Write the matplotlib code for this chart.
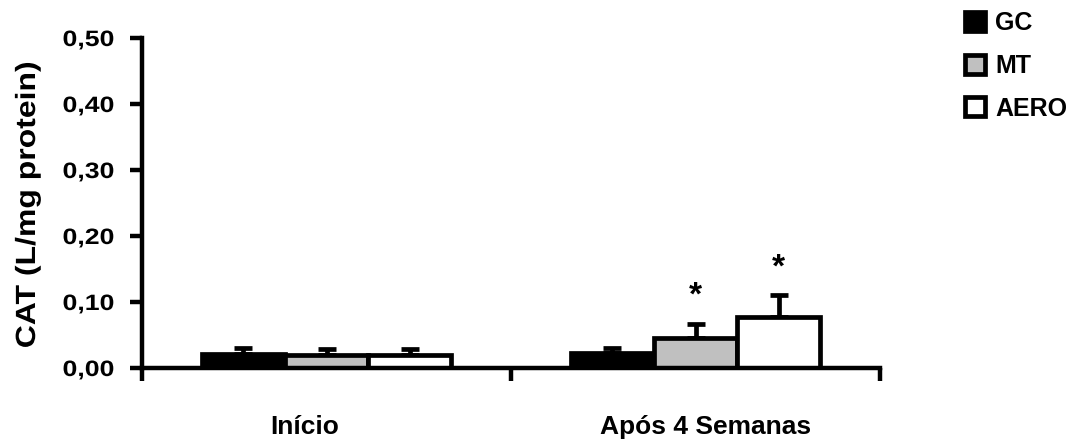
import matplotlib
matplotlib.use("Agg")
import matplotlib.pyplot as plt
import numpy as np
from matplotlib.patches import Patch
from matplotlib.ticker import FuncFormatter
from matplotlib.patheffects import AbstractPathEffect
from matplotlib.transforms import Affine2D

plt.rcParams['font.family'] = ['Liberation Sans', 'DejaVu Sans']
plt.rcParams['font.weight'] = 'bold'

categories = ["Início", "Após 4 Semanas"]
groups = ["GC", "MT", "AERO"]
values = {
    "GC":   [0.021, 0.022],
    "MT":   [0.020, 0.046],
    "AERO": [0.020, 0.078],
}
errors = {
    "GC":   [0.009, 0.008],
    "MT":   [0.009, 0.021],
    "AERO": [0.009, 0.032],
}
significant = {
    "GC":   [False, False],
    "MT":   [False, True],
    "AERO": [False, True],
}
colors = {"GC": "#000000", "MT": "#c0c0c0", "AERO": "#ffffff"}
yticks = [0.0, 0.1, 0.2, 0.3, 0.4, 0.5]
ylabel = "CAT (L/mg protein)"


class Stretch(AbstractPathEffect):
    """Widen text glyphs along the reading direction."""
    def __init__(self, sx=1.0, sy=1.0, anchor='center'):
        super().__init__()
        self.sx, self.sy, self.anchor = sx, sy, anchor

    def draw_path(self, renderer, gc, tpath, affine, rgbFace=None):
        ext = tpath.get_extents()
        ax0 = {'center': (ext.x0 + ext.x1) / 2, 'right': ext.x1, 'left': ext.x0}[self.anchor]
        cy = (ext.y0 + ext.y1) / 2
        t = Affine2D().translate(-ax0, -cy).scale(self.sx, self.sy).translate(ax0, cy)
        renderer.draw_path(gc, tpath, t + affine, rgbFace)


fig = plt.figure(figsize=(10.79, 4.41), dpi=100)
ax = fig.add_axes([142/1079, 1-368/441, (880-142)/1079, (368-38)/441])

width = 0.225
x = np.arange(len(categories))
for i, g in enumerate(groups):
    pos = x + (i - 1) * width
    ax.bar(pos, values[g], width=width, color=colors[g], edgecolor='black',
           linewidth=3.4, zorder=2)
    ax.errorbar(pos, values[g], yerr=[np.zeros(len(pos)), errors[g]], fmt='none',
                ecolor='black', elinewidth=3.4, capsize=6.8, capthick=3.4, zorder=1)
    for p, v, e, s in zip(pos, values[g], errors[g], significant[g]):
        if s:
            ax.annotate('*', xy=(p, v + e), xytext=(0, 13.5), textcoords='offset points',
                        ha='center', va='baseline', fontsize=24, fontweight='bold')

ax.set_xlim(-0.5, 1.5)
ax.set_ylim(0, 0.5)
ax.set_yticks(yticks)
ax.yaxis.set_major_formatter(FuncFormatter(lambda v, _: f"{v:.2f}".replace('.', ',')))
ax.set_xticks([-0.5, 0.5, 1.5])
ax.set_xticklabels([])

label_dx = [-16, 7]  # points, horizontal offset of category labels
for p, c, dx in zip(x, categories, label_dx):
    ax.annotate(c, xy=(p, 0), xycoords=('data', 'axes fraction'),
                xytext=(dx, -47.5), textcoords='offset points',
                ha='center', va='baseline', fontsize=19, fontweight='bold')

for s in ['top', 'right']:
    ax.spines[s].set_visible(False)
for s in ['left', 'bottom']:
    ax.spines[s].set_linewidth(3.2)
    ax.spines[s].set_capstyle('projecting')
ax.tick_params(axis='both', width=3.2, length=9, direction='out')
ax.tick_params(axis='y', labelsize=16, pad=11)
for lbl in ax.get_yticklabels():
    lbl.set_path_effects([Stretch(1.2, 1.0, anchor='right')])

fig.text(28/1079, 1-205/441, ylabel, rotation=90, ha='center', va='center',
         fontsize=20, fontweight='bold', path_effects=[Stretch(1.15, 1.0)])

handles = [Patch(facecolor=colors[g], edgecolor='black', linewidth=3.4, label=g) for g in groups]
fig.legend(handles=handles, loc='upper left', bbox_to_anchor=(965/1079, 1-11/441),
           frameon=False, handlelength=0.8, handleheight=0.8,
           handletextpad=0.4, labelspacing=0.75, borderpad=0, borderaxespad=0,
           prop={'weight': 'bold', 'size': 18})

fig.savefig("out.png", dpi=100)
